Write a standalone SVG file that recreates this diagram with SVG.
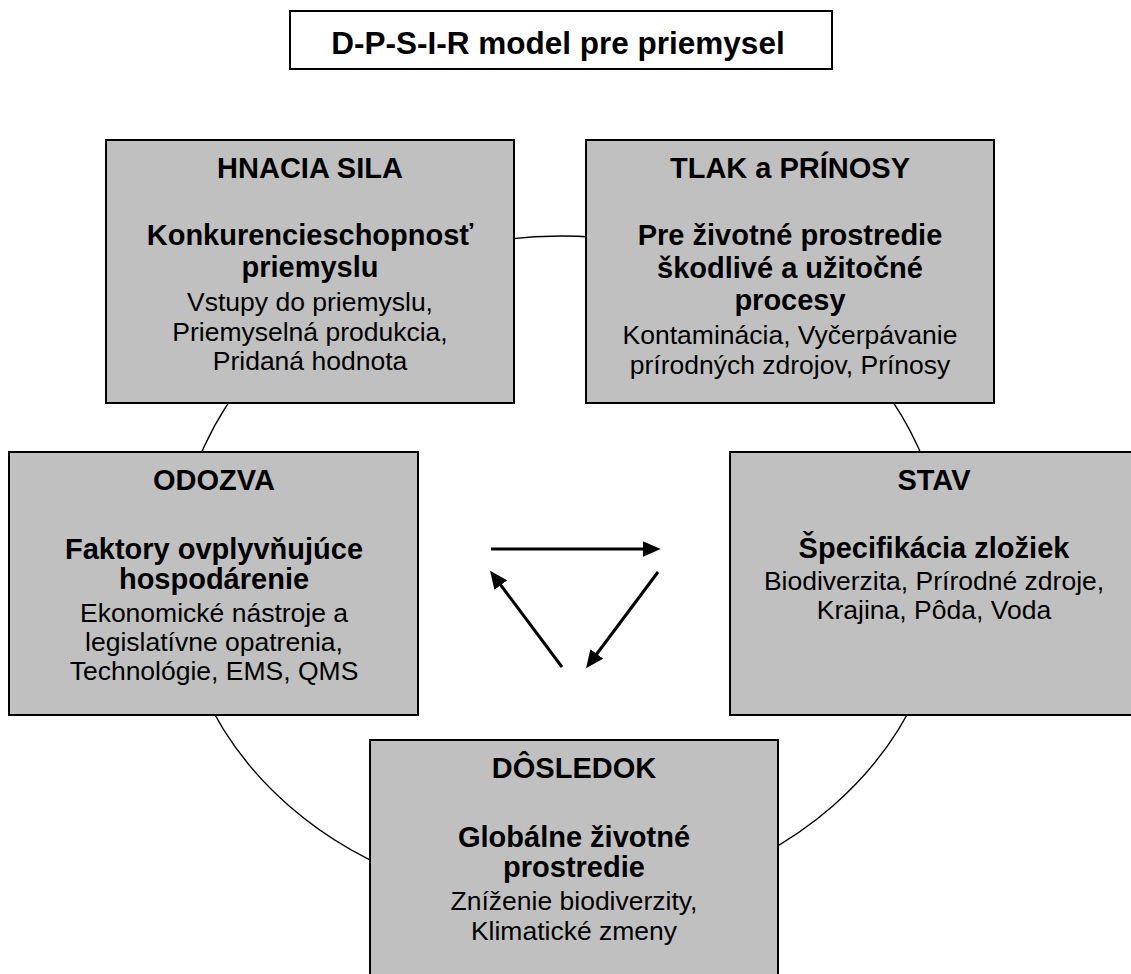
<svg xmlns="http://www.w3.org/2000/svg" width="1131" height="974" viewBox="0 0 1131 974">
<style>
.box{fill:#c0c0c0;stroke:#000;stroke-width:2}
.t{font-family:"Liberation Sans",Arial,sans-serif;text-anchor:middle;fill:#000}
.b{font-weight:bold;font-size:29px}
.r{font-size:26.5px}
.conn{fill:none;stroke:#000;stroke-width:3}
</style>
<defs>
<marker id="ah" markerUnits="userSpaceOnUse" markerWidth="18" markerHeight="16" refX="6" refY="7.5" orient="auto" viewBox="0 0 17 15">
<path d="M0,0 L17,7.5 L0,15 z" fill="#000"/>
</marker>
</defs>
<rect width="1131" height="974" fill="#fff"/>
<g id="cycle">
<ellipse cx="561" cy="570" rx="384" ry="334" fill="none" stroke="#000" stroke-width="1.4"/>
</g>
<g id="title">
<rect x="290" y="11" width="542" height="58" fill="#fff" stroke="#000" stroke-width="2"/>
<text class="t" x="558" y="54" font-weight="bold" font-size="31.5px">D-P-S-I-R model pre priemysel</text>
</g>
<g id="hnacia">
<rect class="box" x="106" y="140" width="408" height="263"/>
<text class="t b" x="310" y="178">HNACIA SILA</text>
<text class="t b" x="310" y="245">Konkurencieschopnosť</text>
<text class="t b" x="310" y="277">priemyslu</text>
<text class="t r" x="310" y="311">Vstupy do priemyslu,</text>
<text class="t r" x="310" y="341">Priemyselná produkcia,</text>
<text class="t r" x="310" y="370">Pridaná hodnota</text>
</g>
<g id="tlak">
<rect class="box" x="586" y="140" width="408" height="263"/>
<text class="t b" x="790" y="178">TLAK a PRÍNOSY</text>
<text class="t b" x="790" y="245">Pre životné prostredie</text>
<text class="t b" x="790" y="278">škodlivé a užitočné</text>
<text class="t b" x="790" y="310">procesy</text>
<text class="t r" x="790" y="344">Kontaminácia, Vyčerpávanie</text>
<text class="t r" x="790" y="374">prírodných zdrojov, Prínosy</text>
</g>
<g id="odozva">
<rect class="box" x="9" y="452" width="409" height="263"/>
<text class="t b" x="214" y="490">ODOZVA</text>
<text class="t b" x="214" y="559">Faktory ovplyvňujúce</text>
<text class="t b" x="214" y="589">hospodárenie</text>
<text class="t r" x="214" y="622">Ekonomické nástroje a</text>
<text class="t r" x="214" y="651">legislatívne opatrenia,</text>
<text class="t r" x="214" y="680">Technológie, EMS, QMS</text>
</g>
<g id="stav">
<rect class="box" x="730" y="452" width="408" height="263"/>
<text class="t b" x="934" y="490">STAV</text>
<text class="t b" x="934" y="558">Špecifikácia zložiek</text>
<text class="t r" x="934" y="590">Biodiverzita, Prírodné zdroje,</text>
<text class="t r" x="934" y="619">Krajina, Pôda, Voda</text>
</g>
<g id="dosledok">
<rect class="box" x="370" y="740" width="408" height="263"/>
<text class="t b" x="574" y="778">DÔSLEDOK</text>
<text class="t b" x="574" y="847">Globálne životné</text>
<text class="t b" x="574" y="877">prostredie</text>
<text class="t r" x="574" y="910">Zníženie biodiverzity,</text>
<text class="t r" x="574" y="940">Klimatické zmeny</text>
</g>
<g id="connectors">
<line class="conn" x1="491" y1="549" x2="649" y2="549" marker-end="url(#ah)"/>
<line class="conn" x1="658" y1="572" x2="593" y2="659" marker-end="url(#ah)"/>
<line class="conn" x1="562" y1="667" x2="497" y2="580" marker-end="url(#ah)"/>
</g>
</svg>
